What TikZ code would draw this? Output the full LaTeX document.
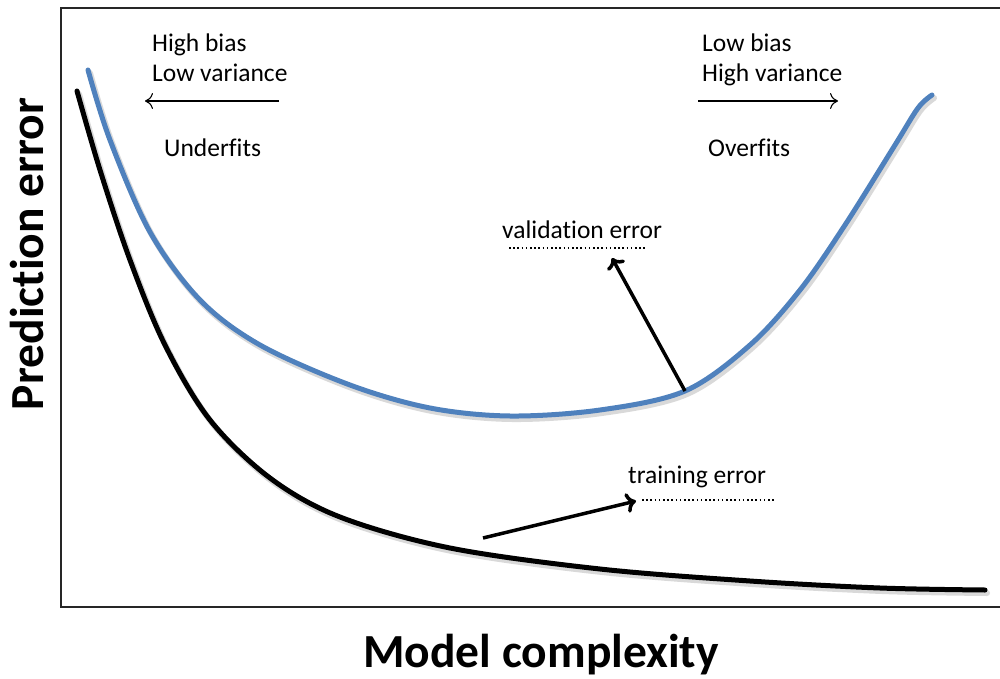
\documentclass[tikz,border=0pt]{standalone}
\usepackage{fontspec}
\setmainfont[Ligatures=NoCommon]{Carlito}
\usetikzlibrary{arrows.meta}
\definecolor{valblue}{RGB}{79,129,189}
\begin{document}
\begin{tikzpicture}[x=1pt,y=-1pt,
  lbl/.style={anchor=base west,inner sep=0pt,font=\fontsize{25.5}{30}\selectfont},
  axislbl/.style={inner sep=0pt,font=\fontsize{47.5}{54}\selectfont\bfseries},
  curve/.style={line width=5pt,line cap=round,line join=round},
  shadow/.style={line width=6pt,draw=black!15,line cap=round},
  thinarrow/.style={line width=1.1pt,-{To[length=8pt,width=16pt]}},
  thickarrow/.style={line width=3.5pt,-{To[length=10pt,width=20pt,line width=3.5pt]}},
  dots/.style={line width=1.6pt,dash pattern=on 1.6pt off 2.6pt}]
\useasboundingbox (0,0) rectangle (1000,679);
% frame
\draw[line width=2pt,draw=black!85] (1002,8) -- (61,8) -- (61,607) -- (1002,607);

% curves
\coordinate (vend) at (685,391);
\begin{scope}[shift={(2,3)}]
\draw[shadow] plot[smooth,tension=0.55] coordinates {(88,70) (110,140) (150,232) (200,300) (260,345) (350,385) (430,408) (510,416) (600,410) (685,391) (750,345) (800,290) (845,225) (895,145) (918,108) (932,95)};
\draw[shadow] plot[smooth,tension=0.55] coordinates {(77,91) (100,170) (130,260) (165,345) (210,420) (270,478) (340,517) (450,548) (600,569) (750,581) (880,588) (985,590)};
\end{scope}
\draw[curve,draw=valblue] plot[smooth,tension=0.55] coordinates {(88,70) (110,140) (150,232) (200,300) (260,345) (350,385) (430,408) (510,416) (600,410) (685,391) (750,345) (800,290) (845,225) (895,145) (918,108) (932,95)};
\draw[curve,draw=black] plot[smooth,tension=0.55] coordinates {(77,91) (100,170) (130,260) (165,345) (210,420) (270,478) (340,517) (450,548) (600,569) (750,581) (880,588) (985,590)};

% labels at the top
\node[lbl] (hb) at (152,52) {High bias};
\node[lbl] (lv) at (152,82) {Low variance};
\node[lbl] (uf) at (164,157) {Underfits};
\node[lbl] (lb) at (702,52) {Low bias};
\node[lbl] (hv) at (702,82) {High variance};
\node[lbl] (of) at (708,157) {Overfits};
\coordinate (la1) at (279,101);
\coordinate (la2) at (145,101);
\coordinate (ra1) at (698,101);
\coordinate (ra2) at (838,101);
\draw[thinarrow] (la1) -- (la2);
\draw[thinarrow] (ra1) -- (ra2);

% curve labels
\node[lbl] (ve) at (502,238) {validation error};
\node[lbl] (te) at (628,483) {training error};
\coordinate (vd1) at (509,248);
\coordinate (vd2) at (645,248);
\coordinate (td1) at (642,500);
\coordinate (td2) at (774,500);
\draw[dots] (vd1) -- (vd2);
\draw[dots] (td1) -- (td2);
\coordinate (vtip) at (612,258);
\coordinate (tstart) at (483,538);
\coordinate (ttip) at (636,501);
\draw[thickarrow] (vend) -- (vtip);
\draw[thickarrow] (tstart) -- (ttip);

% axis titles
\node[axislbl,rotate=90] (ylab) at (27,254) {Prediction error};
\node[axislbl] (xlab) at (541,655) {Model complexity};
\end{tikzpicture}
\end{document}
